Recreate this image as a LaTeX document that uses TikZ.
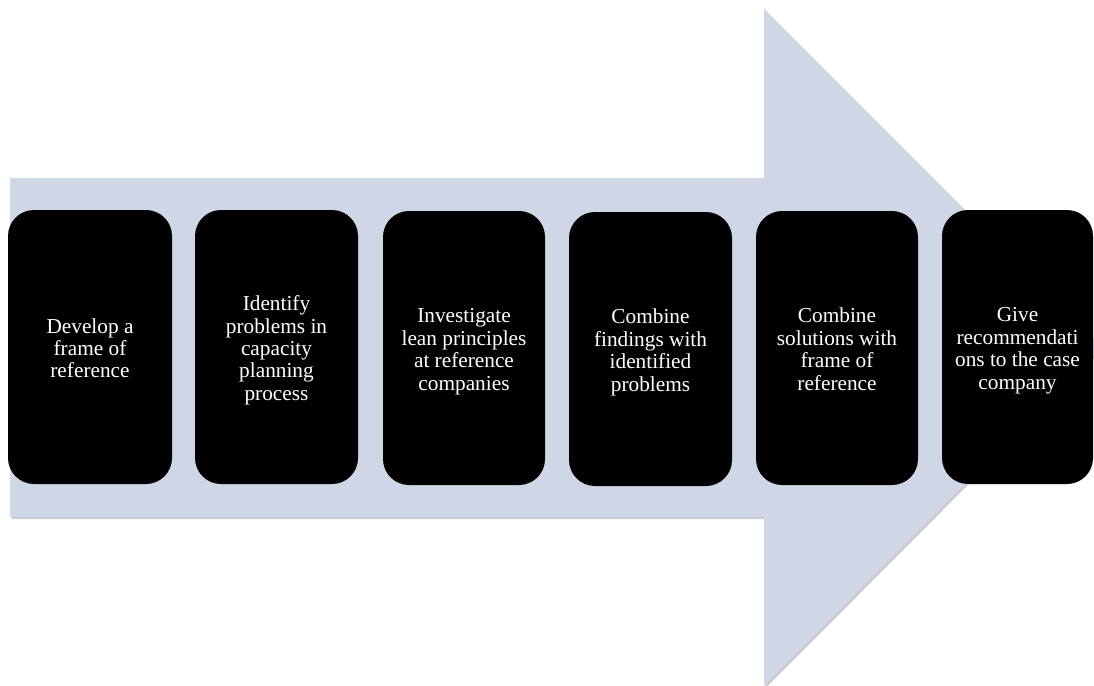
\documentclass[tikz,border=0pt]{standalone}
\usepackage{fontspec}
\setmainfont{Liberation Serif}
% struts for the first and last lines of a stage label;
% the taller top one sets the lines a little below the box centre
\newcommand\firstline{\rule{0pt}{23.7pt}}
\newcommand\lastline{\rule[-6.7pt]{0pt}{6.7pt}}
\begin{document}
\begin{tikzpicture}[x=1pt,y=-1pt,
  stage/.style={fill=black, draw=none, rounded corners=26pt,
    minimum width=#1, minimum height=274pt, inner sep=0pt,
    text=white, align=center,
    font=\fontsize{21.3}{22.4}\selectfont},
  stage/.default=163pt]
\definecolor{arrowfill}{RGB}{207,214,229}
\useasboundingbox (0,0) rectangle (1094,685);
\begin{scope}
\clip (0,0) rectangle (1094,685);
% soft shadow under the big arrow
\fill[black!45, opacity=0.45, shift={(1.5,2)}]
  (10,178) -- (764,178) -- (764,9) -- (1102,347) -- (764,686) -- (764,517) -- (10,517) -- cycle;
% the big block arrow
\fill[arrowfill]
  (10,178) -- (764,178) -- (764,9) -- (1102,347) -- (764,686) -- (764,517) -- (10,517) -- cycle;
\end{scope}
% process stages
\node[stage=164pt] (s1) at (90,347)     {\firstline Develop a\\frame of\\reference\lastline};
\node[stage=163pt] (s2) at (276.5,347)  {\firstline Identify\\problems in\\capacity\\planning\\process\lastline};
\node[stage=162pt] (s3) at (464,348)    {\firstline Investigate\\lean principles\\at reference\\companies\lastline};
\node[stage=163pt] (s4) at (650.5,349)  {\firstline Combine\\findings with\\identified\\problems\lastline};
\node[stage=162pt] (s5) at (837,348)    {\firstline Combine\\solutions with\\frame of\\reference\lastline};
\node[stage=151pt] (s6) at (1017.5,347) {\firstline Give\\recommendati\\ons to the case\\company\lastline};
\end{tikzpicture}
\end{document}
